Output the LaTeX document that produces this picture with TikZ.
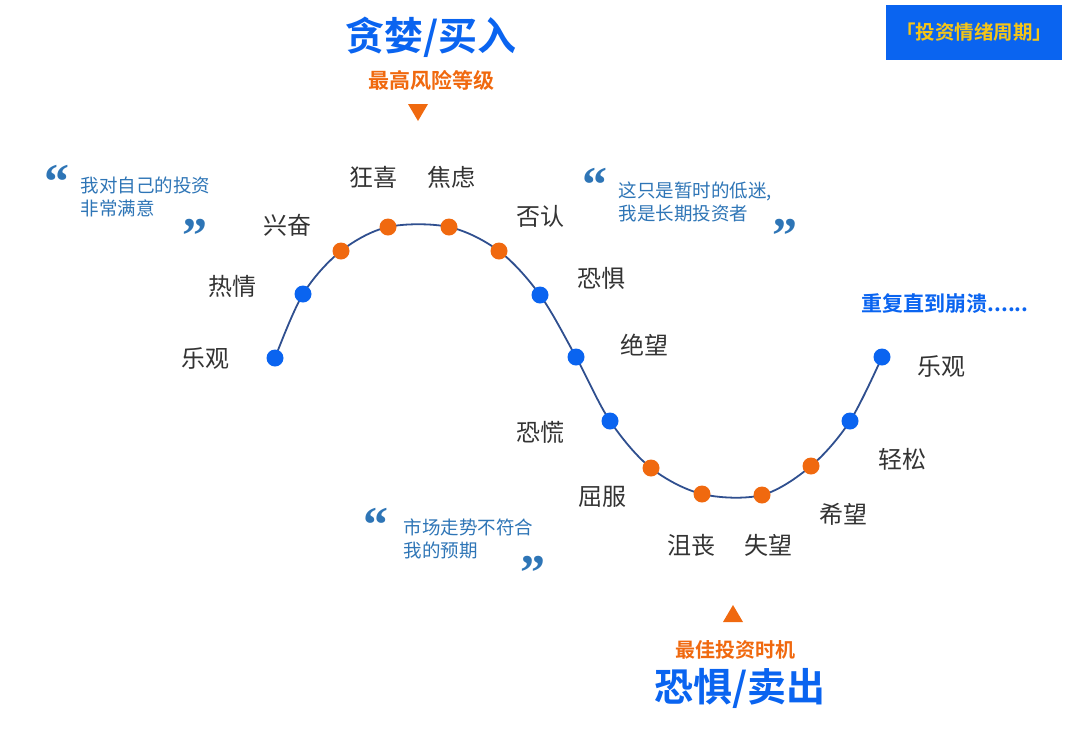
\documentclass[tikz,border=0pt]{standalone}
\usepackage{fontspec}
\newfontfamily\cjk{Noto Sans CJK SC}
\newfontfamily\cjkb{Noto Sans CJK SC Bold}
\newfontfamily\qf{Liberation Serif}
\definecolor{bl}{HTML}{0A64F0}
\definecolor{orr}{HTML}{F0690F}
\definecolor{ln}{HTML}{2F4F8F}
\definecolor{qt}{HTML}{2E75B6}
\definecolor{yl}{HTML}{F5C518}
\begin{document}
\begin{tikzpicture}[x=1pt,y=-1pt,
  lab/.style={font=\cjk\fontsize{24}{27}\selectfont, text=black!80},
  bd/.style={circle,fill=bl,inner sep=0pt,minimum size=17pt},
  od/.style={circle,fill=orr,inner sep=0pt,minimum size=17pt},
  qtext/.style={font=\cjk\fontsize{18.5}{23}\selectfont,text=qt,align=left,anchor=west},
  qm/.style={font=\qf\bfseries\fontsize{50}{50}\selectfont,text=qt},
  tri/.style={fill=orr,draw=none}]
\useasboundingbox (0,0) rectangle (1080,732);
\draw[ln,line width=1.8pt] plot[smooth,tension=0.55] coordinates {(275,358)(303,294)(341,251)(388,227)(449,227)(499,251)(540,295)(576,357)(610,421)(651,468)(702,494)(762,495)(811,466)(850,421)(882,357)};
\node[bd] (p1) at (275,358) {};
\node[bd] (p2) at (303,294) {};
\node[od] (p3) at (341,251) {};
\node[od] (p4) at (388,227) {};
\node[od] (p5) at (449,227) {};
\node[od] (p6) at (499,251) {};
\node[bd] (p7) at (540,295) {};
\node[bd] (p8) at (576,357) {};
\node[bd] (p9) at (610,421) {};
\node[od] (p10) at (651,468) {};
\node[od] (p11) at (702,494) {};
\node[od] (p12) at (762,495) {};
\node[od] (p13) at (811,466) {};
\node[bd] (p14) at (850,421) {};
\node[bd] (p15) at (882,357) {};
\node[lab] (l1) at (205,358) {乐观};
\node[lab] (l2) at (232,286) {热情};
\node[lab] (l3) at (287,225) {兴奋};
\node[lab] (l4) at (373,177) {狂喜};
\node[lab] (l5) at (451,177) {焦虑};
\node[lab] (l6) at (540,216) {否认};
\node[lab] (l7) at (601,278) {恐惧};
\node[lab] (l8) at (644,345) {绝望};
\node[lab] (l9) at (540,432) {恐慌};
\node[lab] (l10) at (602,497) {屈服};
\node[lab] (l11) at (691,545) {沮丧};
\node[lab] (l12) at (768,545) {失望};
\node[lab] (l13) at (843,514) {希望};
\node[lab] (l14) at (902,459) {轻松};
\node[lab] (l15) at (941,366) {乐观};
\node[font=\cjkb\fontsize{39}{42}\selectfont,text=bl] (t1) at (431,37) {贪婪/买入};
\node[font=\cjkb\fontsize{21}{24}\selectfont,text=orr] (s1) at (431,80) {最高风险等级};
\fill[tri] (408,104) -- (428,104) -- (418,121) -- cycle;
\fill[tri] (723,622) -- (743,622) -- (733,605) -- cycle;
\node[font=\cjkb\fontsize{20}{23}\selectfont,text=orr] (s2) at (735,650) {最佳投资时机};
\node[font=\cjkb\fontsize{39}{42}\selectfont,text=bl] (t2) at (740,688) {恐惧/卖出};
\node[font=\cjkb\fontsize{21}{24}\selectfont,text=bl] (r) at (945,304) {重复直到崩溃......};
\node[fill=bl,minimum width=176pt,minimum height=55pt,inner sep=0pt,font=\cjkb\fontsize{19.5}{22}\selectfont,text=yl] (box) at (974,32.5) {「投资情绪周期」};
\node[qm] (q1a) at (57,182) {“};
\node[qtext] (q1) at (77,197) {我对自己的投资\\非常满意};
\node[qm] (q1b) at (195,236) {”};
\node[qm] (q2a) at (595,185) {“};
\node[qtext] (q2) at (615,202) {这只是暂时的低迷,\\我是长期投资者};
\node[qm] (q2b) at (785,236) {”};
\node[qm] (q3a) at (376,525) {“};
\node[qtext] (q3) at (400,539) {市场走势不符合\\我的预期};
\node[qm] (q3b) at (533,573) {”};
\end{tikzpicture}
\end{document}
